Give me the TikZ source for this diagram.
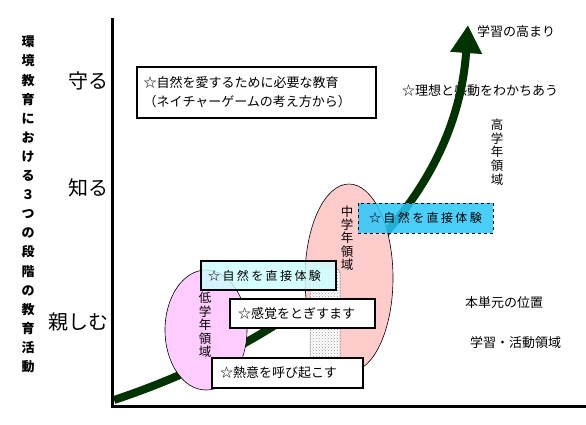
\documentclass[tikz,border=0pt]{standalone}
\usepackage{fontspec}
\setmainfont{Noto Sans CJK JP}
\usetikzlibrary{arrows.meta,patterns}
\definecolor{arrowgreen}{RGB}{0,51,0}
\definecolor{lowpink}{RGB}{255,204,255}
\definecolor{midpink}{RGB}{255,204,204}
\definecolor{boxcyan}{RGB}{40,200,250}
\definecolor{paleblue}{RGB}{204,255,255}
\newcommand\spacedchars[2]{\def\spcw{#1}\spcloop#2\relax}
\def\spcloop#1{\ifx#1\relax\else\makebox[\spcw]{#1}\expandafter\spcloop\fi}
\begin{document}
\begin{tikzpicture}[x=1pt,y=-1pt,
  vtext/.style={align=center, inner sep=0pt},
  lbl/.style={inner sep=0pt, anchor=west, font=\fontsize{13}{15}\selectfont},
  stage/.style={inner sep=0pt, anchor=east, font=\fontsize{20}{22}\selectfont},
  plainbox/.style={draw=black, line width=1.8pt, fill=white, inner sep=0pt, font=\fontsize{13}{15}\selectfont},
  cyanbox/.style={draw=black, line width=0.8pt, inner sep=0pt, text opacity=1, font=\fontsize{12}{14}\selectfont},
]
\useasboundingbox (0,0) rectangle (586,424);
\fill[white] (0,0) rectangle (586,424);

% vertical title
\node[vtext, font=\bfseries\fontsize{13}{19.1}\selectfont] (title) at (28,204.5)
  {環\\境\\教\\育\\に\\お\\け\\る\\３\\つ\\の\\段\\階\\の\\教\\育\\活\\動};

% stage labels
\node[stage] (mamoru) at (109,81) {守る};
\node[stage] (shiru) at (109,188) {知る};
\node[stage] (shitashimu) at (109,322) {親しむ};

% top box
\node[draw=black, line width=1.2pt, fill=white, minimum width=239pt, minimum height=51pt,
  text width=226pt, align=left, inner sep=0pt, font=\fontsize{13}{19}\selectfont] (nature) at (256.5,92.5)
  {☆自然を愛するために必要な教育\\（ネイチャーゲームの考え方から）};

% free labels
\node[lbl] (takamari) at (477,32) {学習の高まり};
\node[lbl] (risou) at (402,91) {☆理想と感動をわかちあう};
\node[lbl] (tangen) at (465,303) {本単元の位置};
\node[lbl] (ryouiki) at (470,343) {学習・活動領域};
\node[vtext, font=\fontsize{12.5}{13.75}\selectfont] (koutext) at (497,152) {高\\学\\年\\領\\域};

% growth arrow
\coordinate (arrowstart) at (114,400);
\coordinate (arrowtip) at (468,25);
\draw[arrowgreen, line width=8pt, -{Triangle[width=30pt,length=28pt]}]
  (arrowstart) .. controls (300,338) and (455,215) .. (arrowtip);

% regions
\draw[fill=midpink, line width=0.6pt] (349,278) ellipse [x radius=44, y radius=94];
\draw[fill=lowpink, line width=0.6pt] (206,330) ellipse [x radius=41, y radius=60];

% dotted strip
\fill[white, rounded corners=6pt] (310,365) -- (310,268) -- (340,268) -- (340,365) -- cycle;
\fill[pattern=crosshatch dots, pattern color=gray!80, rounded corners=6pt] (310,365) -- (310,268) -- (340,268) -- (340,365) -- cycle;
\draw[densely dotted, line width=0.5pt, rounded corners=6pt] (310,365) -- (310,268) -- (340,268) -- (340,365);

% region labels
\node[vtext, font=\fontsize{12.5}{13.5}\selectfont] (lowtext) at (205,325) {低\\学\\年\\領\\域};
\node[vtext, font=\fontsize{12.5}{13.25}\selectfont] (midtext) at (347,238) {中\\学\\年\\領\\域};

% boxes
\node[cyanbox, dashed, fill=boxcyan, fill opacity=0.85, minimum width=135pt, minimum height=30pt] (direct2) at (425.5,218)
  {\spacedchars{14.4pt}{☆自然を直接体験}};
\node[cyanbox, line width=1.8pt, fill=paleblue, fill opacity=0.8, minimum width=135pt, minimum height=29pt] (direct1) at (268.5,275.5)
  {\hspace*{-8pt}\spacedchars{14.4pt}{☆自然を直接体験}};
\node[plainbox, minimum width=145pt, minimum height=29pt] (kankaku) at (302.5,313.5)
  {\hspace*{-12pt}☆感覚をとぎすます};
\node[plainbox, minimum width=151pt, minimum height=30pt] (netsui) at (287.5,373)
  {\hspace*{-18pt}☆熱意を呼び起こす};

% axes
\coordinate (ytop) at (112,18);
\coordinate (origin) at (112,406);
\coordinate (xend) at (586,406);
\draw[line width=3pt] (ytop) -- (origin) -- (xend);
\end{tikzpicture}
\end{document}
